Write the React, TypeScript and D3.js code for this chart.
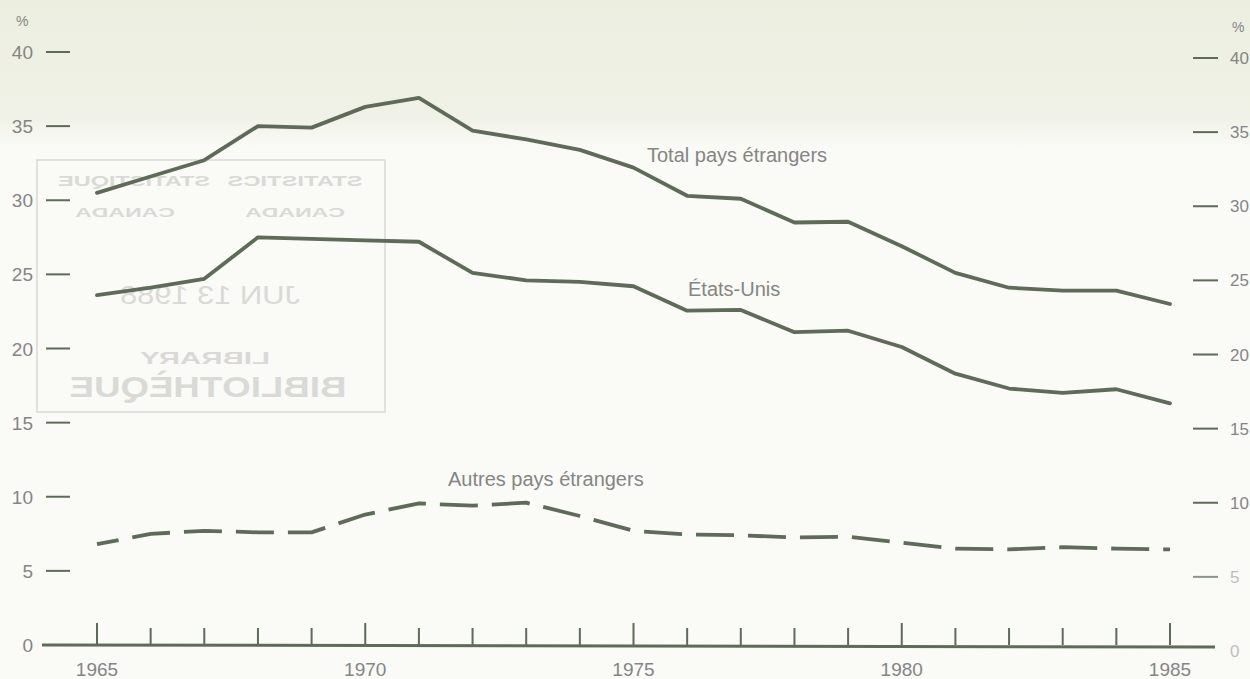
import React from "react";
import * as d3 from "d3";

const years = d3.range(1965, 1986);
const totalPays = [30.5, 31.6, 32.7, 35.0, 34.9, 36.3, 36.9, 34.7, 34.1, 33.4, 32.2, 30.3, 30.1, 28.5, 28.55, 26.9, 25.1, 24.1, 23.9, 23.9, 23.0];
const etatsUnis = [23.6, 24.1, 24.7, 27.5, 27.4, 27.3, 27.2, 25.1, 24.6, 24.5, 24.2, 22.55, 22.6, 21.1, 21.2, 20.1, 18.3, 17.3, 17.0, 17.25, 16.3];
const autresPays = [6.8, 7.5, 7.7, 7.6, 7.6, 8.8, 9.55, 9.4, 9.6, 8.7, 7.7, 7.45, 7.4, 7.25, 7.3, 6.9, 6.5, 6.45, 6.6, 6.5, 6.45];
const yTicks = [0, 5, 10, 15, 20, 25, 30, 35, 40];
const xLabelYears = [1965, 1970, 1975, 1980, 1985];

const W = 1250;
const H = 679;
const LINE = "#5d6b58";
const TEXT = "#858683";
const STAMP = "#d9dad5";
const FONT = "'Liberation Sans', Arial, Helvetica, sans-serif";

export default function App() {
  const x = d3.scaleLinear().domain([1965, 1985]).range([97, 1170]);
  const y = d3.scaleLinear().domain([0, 40]).range([645, 52]);
  const yR = d3.scaleLinear().domain([0, 40]).range([651, 58]);

  const line = d3
    .line<number>()
    .x((_, i) => x(years[i]))
    .y((d) => y(d))
    .curve(d3.curveLinear);

  const stampText = (txt: string, cx: number, by: number, size: number, len?: number, weight = "bold") => (
    <text
      transform={`translate(${cx},${by}) scale(-1,1)`}
      textAnchor="middle"
      fontSize={size}
      fontWeight={weight}
      fill={STAMP}
      fontFamily={FONT}
      textLength={len}
      lengthAdjust={len ? "spacingAndGlyphs" : undefined}
    >
      {txt}
    </text>
  );

  return (
    <svg
      width={W}
      height={H}
      style={{ position: "absolute", left: 0, top: 0, display: "block" }}
      fontFamily={FONT}
    >
      <defs>
        <linearGradient id="topTint" x1="0" y1="0" x2="0" y2="1">
          <stop offset="0" stopColor="#eceee0" />
          <stop offset="0.75" stopColor="#f1f2e7" />
          <stop offset="1" stopColor="#fafaf7" stopOpacity="0" />
        </linearGradient>
      </defs>
      <rect x={0} y={0} width={W} height={H} fill="#fafaf7" />
      <rect x={0} y={0} width={W} height={160} fill="url(#topTint)" />

      {/* bleed-through library stamp */}
      <rect x={37} y={160} width={348} height={252} fill="none" stroke={STAMP} strokeWidth={1.5} />
      {stampText("STATISTIQUE", 134, 186, 15, 152)}
      {stampText("STATISTICS", 295, 186, 15, 135)}
      {stampText("CANADA", 125, 217, 13, 100)}
      {stampText("CANADA", 295, 217, 13, 100)}
      {stampText("JUN 13 1988", 210, 304, 26, 180, "normal")}
      {stampText("LIBRARY", 205, 364, 17, 130)}
      {stampText("BIBLIOTHÈQUE", 208, 397, 30, 277)}

      {/* left axis */}
      {yTicks.map((t) => (
        <g key={"l" + t}>
          {t > 0 && <line x1={46} x2={70} y1={y(t)} y2={y(t)} stroke={LINE} strokeWidth={2} />}
          <text x={33} y={y(t) + 7} textAnchor="end" fontSize={19} fill={TEXT}>
            {t}
          </text>
        </g>
      ))}
      <text x={16} y={26} fontSize={14} fill={TEXT}>%</text>

      {/* right axis */}
      {yTicks.map((t) => (
        <g key={"r" + t}>
          {t > 0 && <line x1={1193} x2={1218} y1={yR(t)} y2={yR(t)} stroke={LINE} strokeWidth={2} opacity={t === 5 ? 0.7 : 1} />}
          <text x={1230} y={yR(t) + 6} fontSize={17} fill={TEXT} opacity={t <= 5 ? 0.5 : 1}>
            {t}
          </text>
        </g>
      ))}
      <text x={1232} y={32} fontSize={14} fill={TEXT}>%</text>

      {/* x axis */}
      <line x1={42} x2={1215} y1={y(0)} y2={y(0) + 2} stroke={LINE} strokeWidth={3} />
      {years.map((yr) => (
        <line
          key={"t" + yr}
          x1={x(yr)}
          x2={x(yr)}
          y1={y(0)}
          y2={y(0) - (yr % 5 === 0 ? 22 : 17)}
          stroke={LINE}
          strokeWidth={2}
        />
      ))}
      {xLabelYears.map((yr) => (
        <text key={"x" + yr} x={x(yr)} y={676} textAnchor="middle" fontSize={19} fill={TEXT}>
          {yr}
        </text>
      ))}

      {/* series */}
      <path d={line(totalPays) || ""} fill="none" stroke={LINE} strokeWidth={3.8} strokeLinejoin="round" strokeLinecap="round" />
      <path d={line(etatsUnis) || ""} fill="none" stroke={LINE} strokeWidth={3.8} strokeLinejoin="round" strokeLinecap="round" />
      <path
        d={line(autresPays) || ""}
        fill="none"
        stroke={LINE}
        strokeWidth={3.8}
        strokeDasharray="38 14"
        strokeDashoffset={16}
        strokeLinejoin="round"
      />

      {/* series labels */}
      <text x={647} y={162} fontSize={20} fill={TEXT}>Total pays étrangers</text>
      <text x={688} y={296} fontSize={20} fill={TEXT}>États-Unis</text>
      <text x={448} y={486} fontSize={20} fill={TEXT}>Autres pays étrangers</text>
    </svg>
  );
}
